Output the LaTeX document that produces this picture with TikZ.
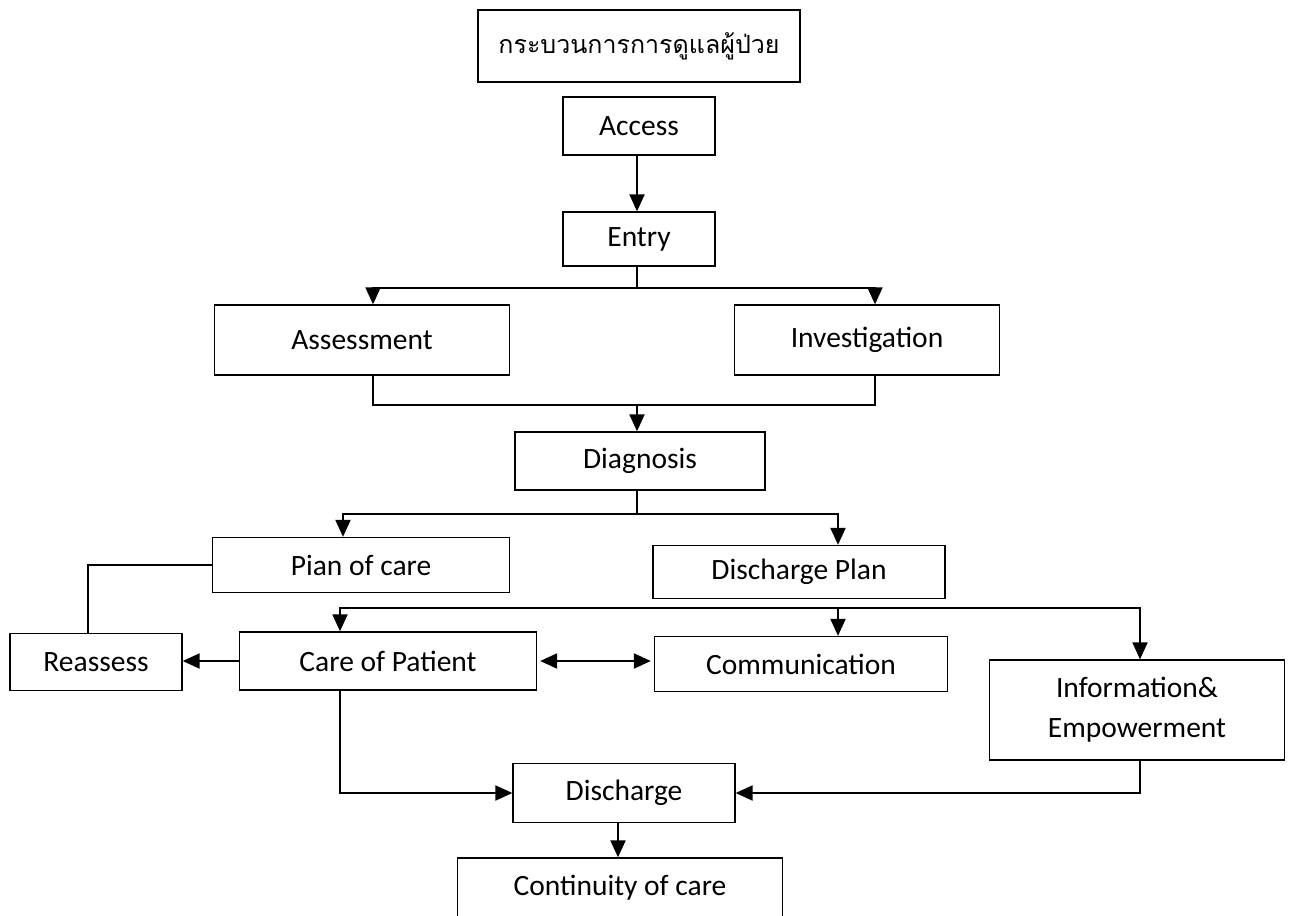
\documentclass[tikz,border=0pt]{standalone}
\usepackage{fontspec}
\setmainfont{Carlito}
\newfontfamily\thaifont[Script=Thai]{Loma}
\usetikzlibrary{arrows.meta}
\tikzset{
  box/.style={draw, line width=1.3pt, inner sep=0pt, align=center, font=\fontsize{29.5}{40}\selectfont},
  conn/.style={line width=2pt},
  arr/.style={conn, -{Triangle[width=15pt,length=17pt]}},
  arrtwo/.style={conn, {Triangle[width=15pt,length=17pt]}-{Triangle[width=15pt,length=17pt]}},
}
\begin{document}
\begin{tikzpicture}[x=1pt,y=-1pt]
\useasboundingbox (0,0) rectangle (1292,915);
\node[box, minimum width=322pt, minimum height=72pt] (title) at (639,46) {\thaifont\fontsize{25}{30}\selectfont กระบวนการการดูแลผู้ป่วย};
\node[box, minimum width=152pt, minimum height=58pt] (access) at (639,126) {Access};
\node[box, minimum width=152pt, minimum height=54pt] (entry) at (639,239) {Entry};
\node[box, minimum width=295pt, minimum height=70pt] (assess) at (362,340) {Assessment};
\node[box, minimum width=265pt, minimum height=70pt] (invest) at (867,340) {Investigation};
\node[box, minimum width=250pt, minimum height=58pt] (diag) at (640,461) {Diagnosis};
\node[box, minimum width=297pt, minimum height=55pt] (plan) at (361,565) {Pian of care};
\node[box, minimum width=292pt, minimum height=53pt] (dplan) at (799,572) {Discharge Plan};
\node[box, minimum width=172pt, minimum height=57pt] (reassess) at (96,662) {Reassess};
\node[box, minimum width=297pt, minimum height=58pt] (care) at (388,661) {Care of Patient};
\node[box, minimum width=293pt, minimum height=55pt] (comm) at (801,664) {Communication};
\node[box, minimum width=295pt, minimum height=100pt] (info) at (1137,710) {Information\&\\Empowerment};
\node[box, minimum width=222pt, minimum height=59pt] (disch) at (624,793) {Discharge};
\node[box, minimum width=325pt, minimum height=60pt] (cont) at (620,888) {Continuity of care};

\coordinate (m1) at (637,405);
\coordinate (bus) at (838,608);

\draw[arr] ([xshift=-2pt]access.south) -- ([xshift=-2pt]entry.north);
\draw[arr] ([xshift=-2pt]entry.south) -- ++(0,21) -| ([xshift=11pt]assess.north);
\draw[arr] ([xshift=-2pt]entry.south) -- ++(0,21) -| ([xshift=8pt]invest.north);
\draw[conn] ([xshift=11pt]assess.south) |- (m1) -| ([xshift=8pt]invest.south);
\draw[arr] (m1) -- (m1 |- diag.north);
\draw[arr] ([xshift=-3pt]diag.south) -- ++(0,23) -| ([xshift=-18pt]plan.north);
\draw[arr] ([xshift=-3pt]diag.south) -- ++(0,23) -| ([xshift=39pt]dplan.north);
\draw[conn] (plan.west) -| ([xshift=-8pt]reassess.north);
\draw[arr] (bus) -| ([xshift=-48pt]care.north);
\draw[arr] (bus) -| ([xshift=3pt]info.north);
\draw[arr] (bus) -- (bus |- comm.north);
\draw[arr] (care.west) -- (care.west -| reassess.east);
\draw[arrtwo, shorten <=3pt, shorten >=3pt] (care.east) -- (care.east -| comm.west);
\draw[arr] ([xshift=-48pt]care.south) |- (disch.west);
\draw[arr] ([xshift=3pt]info.south) |- (disch.east);
\draw[arr] ([xshift=-6pt]disch.south) -- ([xshift=-6pt]disch.south |- cont.north);
\end{tikzpicture}
\end{document}
